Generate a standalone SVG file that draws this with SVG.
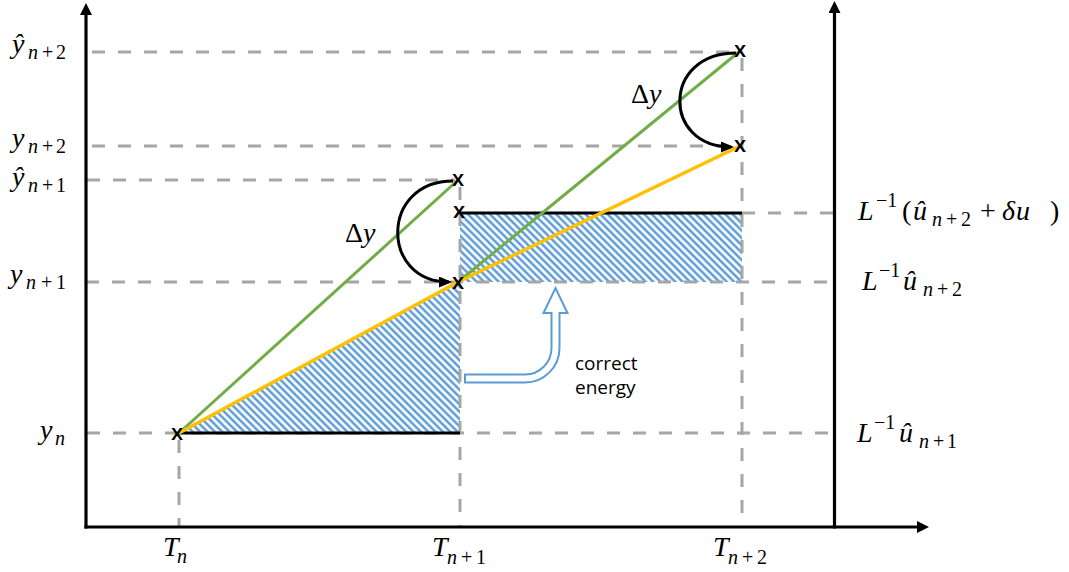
<svg xmlns="http://www.w3.org/2000/svg" width="1069" height="572" viewBox="0 0 1069 572">
<style>
.axis{stroke:#000;stroke-width:3.2;fill:none}
.dash{stroke:#A6A6A6;stroke-width:3;stroke-dasharray:13 13;fill:none}
.blk{stroke:#000;stroke-width:3;fill:none}
.grn{stroke:#70AD47;stroke-width:3;fill:none}
.yel{stroke:#FFC000;stroke-width:3.5;fill:none}
.curve{stroke:#000;stroke-width:3;fill:none}
.xm{font-family:"Open Sans","Liberation Sans",sans-serif;font-size:22px;font-weight:600;text-anchor:middle;fill:#000}
.m{font-family:"Liberation Serif",serif;font-style:italic;font-size:28px;fill:#000}
.s{font-family:"Liberation Serif",serif;font-size:20px;fill:#000}
.i{font-style:italic}
.u{font-style:normal}
.lbl{font-family:"Open Sans","Liberation Sans",sans-serif;font-size:19px;fill:#000}
</style>
<defs>
<pattern id="hatch" patternUnits="userSpaceOnUse" width="5.2" height="5.2" patternTransform="rotate(45)">
<rect width="5.2" height="5.2" fill="#fff"/>
<line x1="-1" y1="2.6" x2="6.2" y2="2.6" stroke="#5B9BD5" stroke-width="2.5"/>
</pattern>
<marker id="axhead" markerUnits="userSpaceOnUse" markerWidth="12" markerHeight="12" viewBox="0 0 12 12" refX="0" refY="6" orient="auto">
<path d="M0,0 L12,6 L0,12 z" fill="#000"/>
</marker>
<marker id="arrhead" markerUnits="userSpaceOnUse" markerWidth="13" markerHeight="11" viewBox="0 0 13 11" refX="10" refY="5.5" orient="auto">
<path d="M0,0 L13,5.5 L0,11 z" fill="#000"/>
</marker>
</defs>
<rect width="1069" height="572" fill="#fff"/>

<g id="hatched-areas">
<polygon points="179,433 460,282 460,433" fill="url(#hatch)"/>
<rect x="460" y="213" width="282" height="69" fill="url(#hatch)"/>
</g>

<g id="guides">
<line class="dash" x1="92" y1="52" x2="740" y2="52"/>
<line class="dash" x1="92" y1="146" x2="740" y2="146"/>
<line class="dash" x1="87" y1="180" x2="455" y2="180"/>
<line class="dash" x1="86" y1="282" x2="834" y2="282"/>
<line class="dash" x1="87" y1="433" x2="834" y2="433"/>
<line class="dash" x1="742" y1="213" x2="834" y2="213"/>
<line class="dash" x1="179" y1="440" x2="179" y2="527"/>
<line class="dash" x1="460" y1="187" x2="460" y2="527"/>
<line class="dash" x1="742" y1="58" x2="742" y2="527"/>
</g>

<g id="axes">
<line class="axis" x1="86" y1="528.6" x2="86" y2="15" marker-end="url(#axhead)"/>
<line class="axis" x1="84.4" y1="527" x2="917" y2="527" marker-end="url(#axhead)"/>
<line class="axis" x1="834.5" y1="528.6" x2="834.5" y2="13" marker-end="url(#axhead)"/>
</g>

<g id="plot-lines">
<line class="blk" x1="179" y1="433" x2="460" y2="433"/>
<line class="blk" x1="460" y1="213" x2="742" y2="213"/>
<line class="grn" x1="179" y1="433" x2="458" y2="180"/>
<line class="grn" x1="458" y1="282" x2="740" y2="51"/>
<line class="yel" x1="179" y1="433" x2="458" y2="282"/>
<line class="yel" x1="458" y1="282" x2="740" y2="146"/>
</g>

<g id="points">
<text class="xm" x="177" y="439.5">x</text>
<text class="xm" x="458" y="186">x</text>
<text class="xm" x="459" y="218">x</text>
<text class="xm" x="458" y="288.5">x</text>
<text class="xm" x="740" y="57">x</text>
<text class="xm" x="740" y="152">x</text>
</g>

<g id="connectors">
<path class="curve" d="M453,181 C380,181 380,282 449,282" marker-end="url(#arrhead)"/>
<path class="curve" d="M736,53 C662,53 662,147 731,147" marker-end="url(#arrhead)"/>
<path id="correct-arrow" d="M465,374.5 L525,374.5 A26.5,26.5 0 0 0 551.5,348 L551.5,313 L543.5,313 L555.5,288 L567.5,313 L559.5,313 L559.5,348 A34.5,34.5 0 0 1 525,382.5 L465,382.5 Z" fill="#fff" stroke="#5B9BD5" stroke-width="2"/>
</g>

<g id="label-yhat-n2">
<text class="m" x="12" y="53">ŷ</text>
<text class="s" y="59"><tspan class="i" x="28">n</tspan><tspan x="42">+</tspan><tspan x="56">2</tspan></text>
</g>
<g id="label-y-n2">
<text class="m" x="12" y="147">y</text>
<text class="s" y="153"><tspan class="i" x="28">n</tspan><tspan x="42">+</tspan><tspan x="56">2</tspan></text>
</g>
<g id="label-yhat-n1">
<text class="m" x="12" y="186">ŷ</text>
<text class="s" y="192"><tspan class="i" x="28">n</tspan><tspan x="42">+</tspan><tspan x="56">1</tspan></text>
</g>
<g id="label-y-n1">
<text class="m" x="10" y="283">y</text>
<text class="s" y="289"><tspan class="i" x="26">n</tspan><tspan x="41">+</tspan><tspan x="56">1</tspan></text>
</g>
<g id="label-y-n">
<text class="m" x="40" y="439">y</text>
<text class="s i" x="55" y="445">n</text>
</g>

<g id="label-T-n">
<text class="m" x="163" y="556">T</text>
<text class="s i" x="177" y="563">n</text>
</g>
<g id="label-T-n1">
<text class="m" x="432" y="556">T</text>
<text class="s" y="564"><tspan class="i" x="447">n</tspan><tspan x="461">+</tspan><tspan x="476">1</tspan></text>
</g>
<g id="label-T-n2">
<text class="m" x="713" y="556">T</text>
<text class="s" y="564"><tspan class="i" x="728">n</tspan><tspan x="742">+</tspan><tspan x="757">2</tspan></text>
</g>

<g id="label-dy1">
<text class="m" x="345" y="242"><tspan class="u">Δ</tspan><tspan x="363">y</tspan></text>
</g>
<g id="label-dy2">
<text class="m" x="631" y="103"><tspan class="u">Δ</tspan><tspan x="649">y</tspan></text>
</g>

<g id="label-L-du">
<text class="m" x="858" y="220">L</text>
<text class="s" x="876" y="207">−1</text>
<text class="m" y="220"><tspan class="u" x="902">(</tspan><tspan x="913">û</tspan></text>
<text class="s" y="226"><tspan class="i" x="932">n</tspan><tspan x="946">+</tspan><tspan x="961">2</tspan></text>
<text class="m" y="220"><tspan class="u" x="980">+</tspan><tspan x="1002">δ</tspan><tspan x="1016">u</tspan><tspan class="u" x="1050">)</tspan></text>
</g>
<g id="label-L-un2">
<text class="m" x="862" y="290">L</text>
<text class="s" x="879" y="277">−1</text>
<text class="m" x="903" y="290">û</text>
<text class="s" y="296"><tspan class="i" x="923">n</tspan><tspan x="937">+</tspan><tspan x="952">2</tspan></text>
</g>
<g id="label-L-un1">
<text class="m" x="857" y="442">L</text>
<text class="s" x="874" y="429">−1</text>
<text class="m" x="899" y="442">û</text>
<text class="s" y="448"><tspan class="i" x="919">n</tspan><tspan x="933">+</tspan><tspan x="947">1</tspan></text>
</g>

<g id="label-correct-energy">
<text class="lbl" x="575" y="370">correct</text>
<text class="lbl" x="575" y="394">energy</text>
</g>
</svg>
